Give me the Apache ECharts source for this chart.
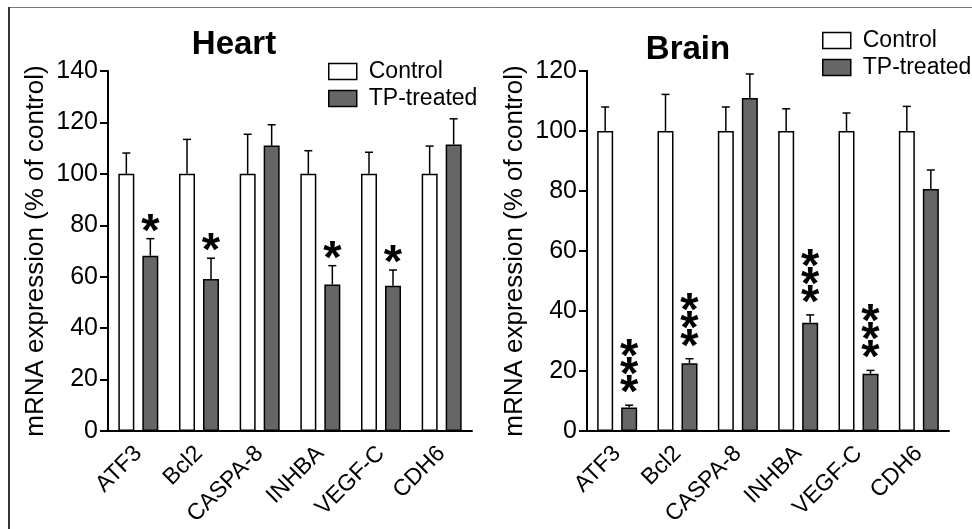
<!DOCTYPE html>
<html>
<head>
<meta charset="utf-8">
<script src="https://cdn.jsdelivr.net/npm/echarts@6/dist/echarts.min.js"></script>
<style>html,body{margin:0;padding:0;background:#fff;}#c{width:972px;height:529px;}</style>
</head>
<body>
<div id="c"></div>
<script>
// ---- data ----
const categories = ['ATF3', 'Bcl2', 'CASPA-8', 'INHBA', 'VEGF-C', 'CDH6'];
const seriesNames = ['Control', 'TP-treated'];
const panelTitles = ['Heart', 'Brain'];
const yAxisName = 'mRNA expression (% of control)';

const heartControl    = [100, 100, 100, 100, 100, 100];
const heartControlErr = [108.1, 113.4, 115.4, 109.0, 108.4, 110.8];
const heartTP         = [68.2, 59.1, 111.0, 57.0, 56.5, 111.4];
const heartTPErr      = [74.8, 67.2, 119.1, 64.3, 62.6, 121.4];
const heartSig        = ['*', '*', '', '*', '*', ''];

const brainControl    = [100, 100, 100, 100, 100, 100];
const brainControlErr = [108.0, 112.2, 108.0, 107.4, 106.0, 108.2];
const brainTP         = [7.8, 22.6, 111.0, 36.1, 19.1, 80.7];
const brainTPErr      = [8.6, 24.1, 119.0, 38.7, 20.2, 87.0];
const brainSig        = ['***', '***', '', '***', '***', ''];

const heartYMax = 140, brainYMax = 120, yInterval = 20;

// ---- styling ----
const FONT = '"Liberation Sans", Arial, sans-serif';
const BAR_W = 16, BAR_GAP = 8;
const OFF = (BAR_W + BAR_GAP) / 2;
const DARK = '#666666';

function errRender(side) {
  return function (params, api) {
    const i = api.value(0);
    const base = api.coord([i, api.value(1)]);
    const top = api.coord([i, api.value(2)]);
    const x = base[0] + side * OFF;
    return {
      type: 'group',
      children: [
        { type: 'line', shape: { x1: x, y1: base[1], x2: x, y2: top[1] }, style: { stroke: '#000', lineWidth: 1.5 } },
        { type: 'line', shape: { x1: x - 4, y1: top[1], x2: x + 4, y2: top[1] }, style: { stroke: '#000', lineWidth: 1.5 } }
      ]
    };
  };
}

function sigRender(sig, dy) {
  return function (params, api) {
    const txt = sig[params.dataIndex];
    if (!txt) return null;
    const i = api.value(0);
    const top = api.coord([i, api.value(1)]);
    const x = top[0] + OFF;
    return {
      type: 'text',
      x: x,
      y: top[1] + dy,
      style: {
        text: txt.split('').join('\n'),
        font: 'bold 47px ' + FONT,
        fill: '#000',
        align: 'center',
        verticalAlign: 'bottom',
        lineHeight: 18
      }
    };
  };
}

function panelSeries(idx, ctrl, ctrlErr, tp, tpErr, sig, dy) {
  return [
    { name: seriesNames[0], type: 'bar', xAxisIndex: idx, yAxisIndex: idx, data: ctrl, barWidth: BAR_W, barGap: '50%',
      itemStyle: { color: '#fff', borderColor: '#000', borderWidth: 1.5 }, silent: true, z: 2 },
    { name: seriesNames[1], type: 'bar', xAxisIndex: idx, yAxisIndex: idx, data: tp, barWidth: BAR_W, barGap: '50%',
      itemStyle: { color: DARK, borderColor: '#000', borderWidth: 1.5 }, silent: true, z: 2 },
    { type: 'custom', xAxisIndex: idx, yAxisIndex: idx, renderItem: errRender(-1), z: 3, silent: true,
      encode: { x: 0, y: 2 }, data: categories.map((c, i) => [i, ctrl[i], ctrlErr[i]]) },
    { type: 'custom', xAxisIndex: idx, yAxisIndex: idx, renderItem: errRender(1), z: 3, silent: true,
      encode: { x: 0, y: 2 }, data: categories.map((c, i) => [i, tp[i], tpErr[i]]) },
    { type: 'custom', xAxisIndex: idx, yAxisIndex: idx, renderItem: sigRender(sig, dy), z: 4, silent: true,
      encode: { x: 0, y: 1 }, data: categories.map((c, i) => [i, tpErr[i]]) }
  ];
}

function xAxisCfg(idx) {
  return {
    type: 'category', gridIndex: idx, data: categories,
    axisLine: { lineStyle: { color: '#000', width: 2 } },
    axisTick: { alignWithLabel: true, length: 8, lineStyle: { color: '#000', width: 2 } },
    axisLabel: { rotate: 45, margin: 19, color: '#000', fontSize: 23, fontFamily: FONT, interval: 0 },
    splitLine: { show: false }
  };
}
function yAxisCfg(idx, max) {
  return {
    type: 'value', gridIndex: idx, min: 0, max: max, interval: yInterval,
    name: yAxisName, nameLocation: 'middle', nameGap: 59, nameRotate: 90,
    nameTextStyle: { color: '#000', fontSize: 26, fontFamily: FONT },
    axisLine: { show: true, lineStyle: { color: '#000', width: 2 } },
    axisTick: { show: true, length: 8, lineStyle: { color: '#000', width: 2 } },
    axisLabel: { color: '#000', fontSize: 25, fontFamily: FONT, margin: 10 },
    splitLine: { show: false }
  };
}
function legendCfg(left, top) {
  return {
    left: left, top: top, orient: 'vertical', padding: 0,
    itemWidth: 28, itemHeight: 16, itemGap: 4, selectedMode: false,
    data: seriesNames, icon: 'rect',
    itemStyle: { borderColor: '#000', borderWidth: 1.5 },
    textStyle: { color: '#000', fontSize: 23, fontFamily: FONT, padding: [0, 0, 0, 7] }
  };
}

const chart = echarts.init(document.getElementById('c'), null, { renderer: 'canvas' });
chart.setOption({
  animation: false,
  backgroundColor: '#fff',
  title: [
    { text: panelTitles[0], left: 234, top: 28, textAlign: 'center', padding: 0,
      textStyle: { fontSize: 33, fontWeight: 'bold', color: '#000', fontFamily: FONT } },
    { text: panelTitles[1], left: 688, top: 33, textAlign: 'center', padding: 0,
      textStyle: { fontSize: 33, fontWeight: 'bold', color: '#000', fontFamily: FONT } }
  ],
  legend: [legendCfg(328, 60), legendCfg(822, 29)],
  grid: [
    { left: 108, top: 71, width: 364, height: 360, containLabel: false },
    { left: 587, top: 71, width: 362, height: 360, containLabel: false }
  ],
  xAxis: [xAxisCfg(0), xAxisCfg(1)],
  yAxis: [yAxisCfg(0, heartYMax), yAxisCfg(1, brainYMax)],
  series: [].concat(
    panelSeries(0, heartControl, heartControlErr, heartTP, heartTPErr, heartSig, 3),
    panelSeries(1, brainControl, brainControlErr, brainTP, brainTPErr, brainSig, -2)
  ),
  graphic: [
    { type: 'line', shape: { x1: 9, y1: 7.5, x2: 972, y2: 7.5 }, style: { stroke: '#777', lineWidth: 1 }, silent: true },
    { type: 'line', shape: { x1: 9, y1: 7, x2: 9, y2: 529 }, style: { stroke: '#333', lineWidth: 2 }, silent: true }
  ]
});
</script>
</body>
</html>
